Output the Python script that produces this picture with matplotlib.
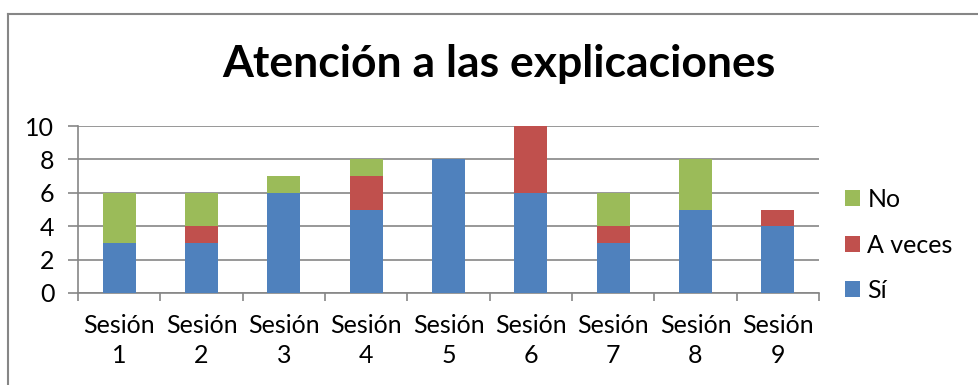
import matplotlib
matplotlib.use("Agg")
import matplotlib.pyplot as plt
import numpy as np
from matplotlib.lines import Line2D

categories = ["Sesión\n1", "Sesión\n2", "Sesión\n3", "Sesión\n4", "Sesión\n5",
              "Sesión\n6", "Sesión\n7", "Sesión\n8", "Sesión\n9"]
si = [3, 3, 6, 5, 8, 6, 3, 5, 4]
a_veces = [0, 1, 0, 2, 0, 4, 1, 0, 1]
no = [3, 2, 1, 1, 0, 0, 2, 3, 0]

plt.rcParams['font.family'] = ['Lato', 'DejaVu Sans']

fig = plt.figure(figsize=(9.79, 3.85), dpi=100)
ax = fig.add_axes([78/979, 1-293/385, (819-78)/979, (293-126)/385])

x = np.arange(len(categories))
w = 0.4
c_si, c_av, c_no = "#4f81bd", "#c0504d", "#9bbb59"
b1 = ax.bar(x, si, w, color=c_si, label="Sí", zorder=3)
b2 = ax.bar(x, a_veces, w, bottom=si, color=c_av, label="A veces", zorder=3)
bottom2 = [a + b for a, b in zip(si, a_veces)]
b3 = ax.bar(x, no, w, bottom=bottom2, color=c_no, label="No", zorder=3)

ax.set_xlim(-0.5, len(categories) - 0.5)
ax.set_ylim(0, 10)
ax.set_yticks([0, 2, 4, 6, 8, 10])
ax.yaxis.grid(True, color="#868686", linewidth=1.2, zorder=0)
ax.set_axisbelow(True)
for s in ["top", "right"]:
    ax.spines[s].set_visible(False)
ax.spines["left"].set_color("#868686")
ax.spines["bottom"].set_color("#868686")
ax.spines["left"].set_linewidth(1.2)
ax.spines["bottom"].set_linewidth(1.2)

ax.set_xticks(np.arange(-0.5, len(categories), 1.0))
ax.set_xticklabels([])
ax.set_xticks(x, minor=True)
ax.set_xticklabels(categories, minor=True, fontsize=18, linespacing=1.4)
ax.tick_params(axis="x", which="major", length=6, color="#868686", width=1.2)
ax.tick_params(axis="x", which="minor", length=0, pad=15)
ax.tick_params(axis="y", length=7, color="#868686", width=1.2, labelsize=18, pad=10)

handles = [b3, b2, b1]
ax.legend(handles, ["No", "A veces", "Sí"], loc="center left",
          bbox_to_anchor=(1.035, 0.287), frameon=False, fontsize=18,
          handlelength=0.6, handleheight=0.6, labelspacing=0.9, handletextpad=0.3,
          borderaxespad=0, borderpad=0)

fig.text(499/979, 1 - 64/385, "Atención a las explicaciones", ha="center", va="center",
         fontsize=32, fontweight="bold")

fig.add_artist(Line2D([8/979, 8/979], [0, 1 - 14/385], transform=fig.transFigure,
                      color="#868686", linewidth=1.5))
fig.add_artist(Line2D([8/979, 1], [1 - 14/385, 1 - 14/385], transform=fig.transFigure,
                      color="#868686", linewidth=1.5))

fig.savefig("out.png", dpi=100)
